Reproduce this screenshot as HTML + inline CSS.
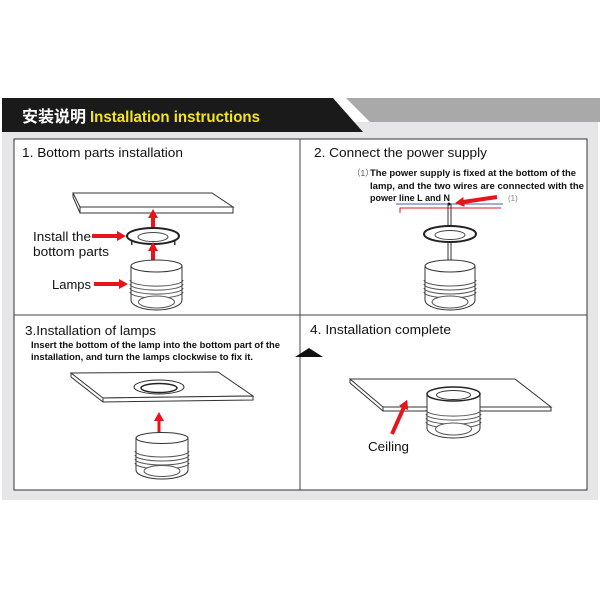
<!DOCTYPE html>
<html><head><meta charset="utf-8"><style>
html,body{margin:0;padding:0;background:#fff;}
svg{display:block;}
text{font-family:"Liberation Sans","Noto Sans CJK SC",sans-serif;}
</style></head><body>
<svg width="600" height="600" viewBox="0 0 600 600" xmlns="http://www.w3.org/2000/svg">
<defs>
<marker id="ah" markerWidth="9" markerHeight="10" refX="1" refY="5" orient="auto" markerUnits="userSpaceOnUse"><path d="M0,0 L9,5 L0,10 z" fill="#e8141b"/></marker>
</defs>
<rect x="2" y="122" width="596" height="378" fill="#e6e6e9"/>
<polygon points="346,98 600,98 600,122 370,122" fill="#a9a9a9"/>
<polygon points="2,98 333,98 363,132 2,132" fill="#1a1a1a"/>
<text x="22" y="122" font-size="16" font-weight="bold" fill="#fff">安装说明</text>
<text x="90" y="122" font-size="16" font-weight="bold" fill="#f2e51c" textLength="170" lengthAdjust="spacingAndGlyphs">Installation instructions</text>
<rect x="14" y="139" width="573" height="351" fill="#fff" stroke="#333" stroke-width="1"/>
<line x1="300" y1="139" x2="300" y2="490" stroke="#444"/>
<line x1="14" y1="315" x2="587" y2="315" stroke="#444"/>

<!-- Panel 1 -->
<text x="22" y="157" font-size="13" fill="#111" textLength="161" lengthAdjust="spacingAndGlyphs">1. Bottom parts installation</text>
<polygon points="73,193 212,193 233,207 80,207" fill="#fff" stroke="#333"/>
<polygon points="80,207 233,207 233,213 80,213" fill="#fff" stroke="#333"/>
<line x1="73" y1="193" x2="73" y2="197" stroke="#333"/><line x1="73" y1="197" x2="80" y2="213" stroke="#333"/>
<line x1="153" y1="229" x2="153" y2="217" stroke="#e8141b" stroke-width="4" marker-end="url(#ah)"/>
<ellipse cx="153" cy="236" rx="26" ry="8" fill="#fff" stroke="#222" stroke-width="2"/>
<ellipse cx="153" cy="237" rx="15" ry="4.5" fill="#fff" stroke="#444"/>
<rect x="131" y="241" width="1.5" height="4" fill="#333"/><rect x="174" y="241" width="1.5" height="4" fill="#333"/>
<line x1="153" y1="262" x2="153" y2="250" stroke="#e8141b" stroke-width="4" marker-end="url(#ah)"/>
<path d="M131,266 L131,300 A25.5,10 0 0 0 182,300 L182,266" fill="#fff" stroke="#333"/>
<ellipse cx="156.5" cy="266" rx="25.5" ry="6" fill="#fff" stroke="#333"/>
<path d="M130,280 A26,6 0 0 0 183,280 M130,284 A26,6 0 0 0 183,284 M130,288 A26,6 0 0 0 183,288 M130,292 A26,6 0 0 0 183,292" fill="none" stroke="#555"/>
<ellipse cx="156.5" cy="302" rx="18" ry="6" fill="#fff" stroke="#555"/>
<line x1="92" y1="236" x2="118" y2="236" stroke="#e8141b" stroke-width="4" marker-end="url(#ah)"/>
<line x1="94" y1="284" x2="120" y2="284" stroke="#e8141b" stroke-width="4" marker-end="url(#ah)"/>
<text x="33" y="241" font-size="13" fill="#111" textLength="58" lengthAdjust="spacingAndGlyphs">Install the</text>
<text x="33" y="256" font-size="13" fill="#111" textLength="76" lengthAdjust="spacingAndGlyphs">bottom parts</text>
<text x="52" y="289" font-size="13" fill="#111" textLength="39" lengthAdjust="spacingAndGlyphs">Lamps</text>

<!-- Panel 2 -->
<text x="314" y="157" font-size="13" fill="#111" textLength="173" lengthAdjust="spacingAndGlyphs">2. Connect the power supply</text>
<text x="352" y="176" font-size="8.5" fill="#555">（1）</text>
<text x="370" y="176" font-size="9" font-weight="bold" fill="#111" textLength="206" lengthAdjust="spacingAndGlyphs">The power supply is fixed at the bottom of the</text>
<text x="370" y="189" font-size="9" font-weight="bold" fill="#111" textLength="214" lengthAdjust="spacingAndGlyphs">lamp, and the two wires are connected with the</text>
<text x="370" y="201" font-size="9" font-weight="bold" fill="#111" textLength="80" lengthAdjust="spacingAndGlyphs">power line L and N</text>
<text x="508" y="201" font-size="8" fill="#888">(1)</text>
<line x1="396" y1="204" x2="503" y2="204" stroke="#4a5ad0"/>
<path d="M400,213 L400,208 L501,208" fill="none" stroke="#e8141b"/>
<line x1="497" y1="197" x2="463" y2="202" stroke="#e8141b" stroke-width="4" marker-end="url(#ah)"/>
<circle cx="449" cy="204" r="1.5" fill="#111"/>
<line x1="448" y1="204" x2="448" y2="263" stroke="#333"/><line x1="451" y1="204" x2="451" y2="263" stroke="#333"/>
<ellipse cx="450" cy="234" rx="26" ry="8" fill="#fff" stroke="#222" stroke-width="2"/>
<ellipse cx="450" cy="235" rx="15" ry="4.5" fill="#fff" stroke="#444"/>
<path d="M425,266 L425,300 A25,10 0 0 0 475,300 L475,266" fill="#fff" stroke="#333"/>
<ellipse cx="450" cy="266" rx="25" ry="6" fill="#fff" stroke="#333"/>
<path d="M424,280 A26,6 0 0 0 476,280 M424,284 A26,6 0 0 0 476,284 M424,288 A26,6 0 0 0 476,288 M424,292 A26,6 0 0 0 476,292" fill="none" stroke="#555"/>
<ellipse cx="450" cy="302" rx="18" ry="6" fill="#fff" stroke="#555"/>

<!-- Panel 3 -->
<text x="25" y="335" font-size="13" fill="#111" textLength="131" lengthAdjust="spacingAndGlyphs">3.Installation of lamps</text>
<text x="31" y="348" font-size="9" font-weight="bold" fill="#111" textLength="249" lengthAdjust="spacingAndGlyphs">Insert the bottom of the lamp into the bottom part of the</text>
<text x="31" y="360" font-size="9" font-weight="bold" fill="#111" textLength="222" lengthAdjust="spacingAndGlyphs">installation, and turn the lamps clockwise to fix it.</text>
<polygon points="295,357 323,357 309,348" fill="#111"/>
<polygon points="71,373 218,372 253,396 103,398" fill="#fff" stroke="#333"/>
<polygon points="103,398 253,396 253,400 103,402" fill="#fff" stroke="#333"/>
<line x1="71" y1="373" x2="71" y2="377" stroke="#333"/><line x1="71" y1="377" x2="103" y2="402" stroke="#333"/>
<ellipse cx="159" cy="387" rx="25" ry="7" fill="#fff" stroke="#333"/>
<ellipse cx="159" cy="388" rx="18" ry="4.5" fill="#fff" stroke="#222" stroke-width="1.5"/>
<line x1="159" y1="433" x2="159" y2="420" stroke="#e8141b" stroke-width="3" marker-end="url(#ah)"/>
<path d="M136,438 L136,470 A26,9 0 0 0 188,470 L188,438" fill="#fff" stroke="#333"/>
<ellipse cx="162" cy="438" rx="26" ry="5.5" fill="#fff" stroke="#333"/>
<path d="M135,451 A27,6 0 0 0 189,451 M135,455 A27,6 0 0 0 189,455 M135,459 A27,6 0 0 0 189,459 M135,463 A27,6 0 0 0 189,463" fill="none" stroke="#555"/>
<ellipse cx="162" cy="471" rx="18" ry="5.5" fill="#fff" stroke="#555"/>

<!-- Panel 4 -->
<text x="310" y="334" font-size="13" fill="#111" textLength="141" lengthAdjust="spacingAndGlyphs">4.  Installation complete</text>
<polygon points="350,379 515,379 551,407 383,407" fill="#fff" stroke="#333"/>
<polygon points="383,407 551,407 551,411 383,411" fill="#fff" stroke="#333"/>
<line x1="350" y1="379" x2="350" y2="383" stroke="#333"/><line x1="350" y1="383" x2="383" y2="411" stroke="#333"/>
<path d="M427,394 L427,428 A26.5,10 0 0 0 480,428 L480,394" fill="#fff" stroke="#333"/>
<ellipse cx="453.5" cy="394" rx="26.5" ry="7" fill="#fff" stroke="#222" stroke-width="1.5"/>
<ellipse cx="453.5" cy="395" rx="17" ry="4.5" fill="#fff" stroke="#333"/>
<path d="M426,410 A27,6 0 0 0 481,410 M426,414 A27,6 0 0 0 481,414 M426,418 A27,6 0 0 0 481,418 M426,422 A27,6 0 0 0 481,422" fill="none" stroke="#555"/>
<ellipse cx="453.5" cy="429" rx="18" ry="6" fill="#fff" stroke="#555"/>
<line x1="392" y1="434" x2="404" y2="407" stroke="#e8141b" stroke-width="4" marker-end="url(#ah)"/>
<text x="368" y="451" font-size="13" fill="#111" textLength="41" lengthAdjust="spacingAndGlyphs">Ceiling</text>
</svg>
</body></html>
